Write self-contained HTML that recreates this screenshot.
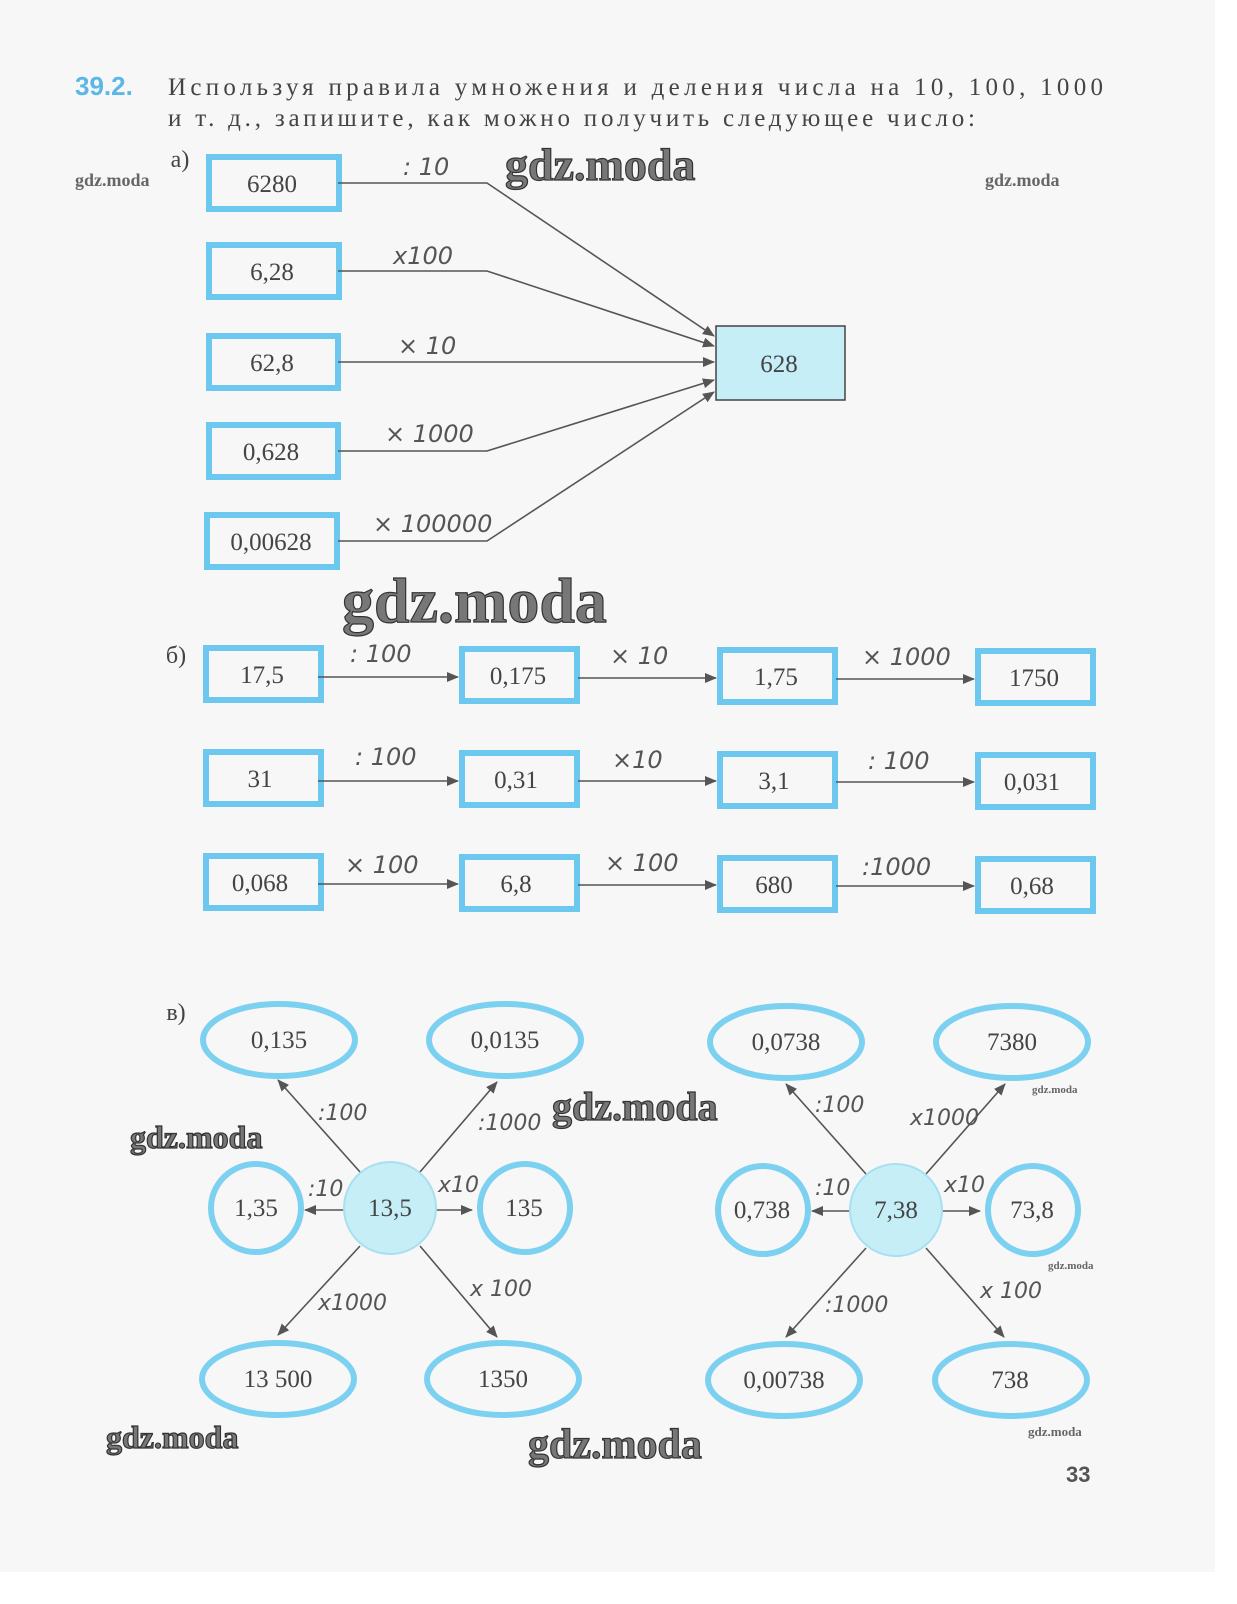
<!DOCTYPE html>
<html><head><meta charset="utf-8"><style>
body{margin:0;width:1237px;height:1604px;background:#fff;overflow:hidden}
svg{display:block}
.t{font-family:"Liberation Serif",serif;fill:#444}
.h{fill:#444;font-size:25px;font-family:"Liberation Serif",serif}
.hw{font-family:"DejaVu Sans",sans-serif;font-style:italic;fill:#555;font-size:24px}
.wm{font-family:"Liberation Serif",serif;font-weight:bold;fill:#777;stroke:#333;stroke-width:1.2}
</style></head><body>
<svg width="1237" height="1604" viewBox="0 0 1237 1604">
<defs><marker id="a" markerWidth="12" markerHeight="10" refX="11" refY="5" orient="auto" markerUnits="userSpaceOnUse"><path d="M0,0 L12,5 L0,10 Z" fill="#555"/></marker></defs>
<rect x="0" y="0" width="1215" height="1572" fill="#f7f7f7"/>
<text x="75" y="95" font-family="Liberation Sans,sans-serif" font-weight="bold" font-size="26" fill="#5bb8e6">39.2.</text>
<text x="168" y="95" class="h" textLength="935" lengthAdjust="spacing">Используя правила умножения и деления числа на 10, 100, 1000</text>
<text x="168" y="126" class="h" textLength="807" lengthAdjust="spacing">и т. д., запишите, как можно получить следующее число:</text>
<g fill="none" stroke="#6cc8ee" stroke-width="6">
<rect x="209" y="157" width="130" height="52"/><rect x="209" y="245" width="130" height="52"/>
<rect x="209" y="336" width="129" height="52"/><rect x="209" y="425" width="129" height="52"/>
<rect x="207" y="515" width="130" height="52"/>
<rect x="206" y="648" width="115" height="52"/><rect x="462" y="649" width="115" height="52"/><rect x="720" y="650" width="115" height="52"/><rect x="978" y="651" width="115" height="52"/>
<rect x="206" y="752" width="115" height="52"/><rect x="462" y="753" width="115" height="52"/><rect x="720" y="754" width="115" height="52"/><rect x="978" y="755" width="115" height="52"/>
<rect x="206" y="856" width="115" height="52"/><rect x="462" y="857" width="115" height="52"/><rect x="720" y="858" width="115" height="52"/><rect x="978" y="859" width="115" height="52"/>
</g>
<rect x="716" y="326" width="129" height="74" fill="#c6eef6" stroke="#444" stroke-width="1.5"/>
<g class="t" font-size="25" text-anchor="middle">
<text x="272" y="192">6280</text><text x="272" y="280">6,28</text><text x="272" y="371">62,8</text><text x="271" y="460">0,628</text><text x="271" y="550">0,00628</text>
<text x="779" y="372">628</text>
<text x="262" y="683">17,5</text><text x="518" y="684">0,175</text><text x="776" y="685">1,75</text><text x="1034" y="686">1750</text>
<text x="260" y="787">31</text><text x="516" y="788">0,31</text><text x="774" y="789">3,1</text><text x="1032" y="790">0,031</text>
<text x="260" y="891">0,068</text><text x="516" y="892">6,8</text><text x="774" y="893">680</text><text x="1032" y="894">0,68</text>
<text x="180" y="167" font-size="24">а)</text><text x="176" y="663" font-size="24">б)</text><text x="176" y="1020" font-size="24">в)</text>
</g>
<g stroke="#555" stroke-width="1.6" fill="none" marker-end="url(#a)">
<path d="M338,183 H487 L714,336"/><path d="M338,271 H487 L714,346"/><path d="M338,362 H714"/><path d="M338,451 H487 L714,380"/><path d="M338,541 H487 L714,392"/>
<path d="M318,677 H458"/><path d="M578,678 H716"/><path d="M836,679 H974"/>
<path d="M318,781 H458"/><path d="M578,781 H716"/><path d="M836,782 H974"/>
<path d="M318,884 H458"/><path d="M578,885 H716"/><path d="M836,886 H974"/>
<path d="M360,1172 L278,1080"/><path d="M420,1172 L497,1082"/><path d="M344,1210 L305,1210"/><path d="M436,1210 L472,1210"/><path d="M360,1246 L278,1335"/><path d="M420,1246 L497,1337"/>
<path d="M866,1174 L786,1084"/><path d="M926,1174 L1005,1084"/><path d="M850,1211 L812,1211"/><path d="M942,1211 L980,1211"/><path d="M866,1248 L786,1337"/><path d="M926,1248 L1004,1337"/>
</g>
<g class="hw">
<text x="403" y="175">: 10</text><text x="393" y="264">x100</text><text x="398" y="354">× 10</text><text x="385" y="442">× 1000</text><text x="373" y="532">× 100000</text>
<text x="350" y="662">: 100</text><text x="610" y="664">× 10</text><text x="862" y="665">× 1000</text>
<text x="355" y="765">: 100</text><text x="612" y="768">×10</text><text x="868" y="769">: 100</text>
<text x="345" y="873">× 100</text><text x="605" y="871">× 100</text><text x="862" y="875">:1000</text>
<text x="318" y="1120" font-size="22">:100</text><text x="478" y="1130" font-size="22">:1000</text><text x="308" y="1196" font-size="22">:10</text><text x="438" y="1192" font-size="22">x10</text><text x="318" y="1310" font-size="22">x1000</text><text x="470" y="1296" font-size="22">x 100</text>
<text x="815" y="1112" font-size="22">:100</text><text x="910" y="1125" font-size="22">x1000</text><text x="815" y="1195" font-size="22">:10</text><text x="944" y="1192" font-size="22">x10</text><text x="825" y="1312" font-size="22">:1000</text><text x="980" y="1298" font-size="22">x 100</text>
</g>
<g fill="none" stroke="#7cd0f0" stroke-width="6">
<ellipse cx="279" cy="1040" rx="76" ry="36"/><ellipse cx="505" cy="1040" rx="76" ry="36"/>
<ellipse cx="256" cy="1208" rx="45" ry="44"/><ellipse cx="525" cy="1208" rx="45" ry="44"/>
<ellipse cx="278" cy="1379" rx="76" ry="36"/><ellipse cx="503" cy="1379" rx="76" ry="36"/>
<ellipse cx="786" cy="1042" rx="76" ry="36"/><ellipse cx="1012" cy="1042" rx="76" ry="36"/>
<ellipse cx="763" cy="1210" rx="45" ry="44"/><ellipse cx="1033" cy="1210" rx="45" ry="44"/>
<ellipse cx="784" cy="1380" rx="76" ry="36"/><ellipse cx="1011" cy="1380" rx="76" ry="36"/>
</g>
<circle cx="390" cy="1208" r="46" fill="#c6eef6" stroke="#a8dff2" stroke-width="2"/>
<circle cx="896" cy="1210" r="46" fill="#c6eef6" stroke="#a8dff2" stroke-width="2"/>
<g class="t" font-size="25" text-anchor="middle">
<text x="279" y="1048">0,135</text><text x="505" y="1048">0,0135</text><text x="256" y="1216">1,35</text><text x="390" y="1216">13,5</text><text x="524" y="1216">135</text><text x="278" y="1387">13 500</text><text x="503" y="1387">1350</text>
<text x="786" y="1050">0,0738</text><text x="1012" y="1050">7380</text><text x="762" y="1218">0,738</text><text x="896" y="1218">7,38</text><text x="1032" y="1218">73,8</text><text x="784" y="1388">0,00738</text><text x="1010" y="1388">738</text>
</g>
<text x="1066" y="1482" font-family="Liberation Sans,sans-serif" font-weight="bold" font-size="22" fill="#555">33</text>
<g class="wm">
<text x="505" y="180" font-size="46">gdz.moda</text>
<text x="342" y="622" font-size="64">gdz.moda</text>
<text x="552" y="1120" font-size="40">gdz.moda</text>
<text x="130" y="1148" font-size="32">gdz.moda</text>
<text x="106" y="1448" font-size="32">gdz.moda</text>
<text x="528" y="1458" font-size="42">gdz.moda</text>
</g>
<g font-family="Liberation Serif,serif" font-weight="bold" fill="#666">
<text x="75" y="186" font-size="18">gdz.moda</text><text x="985" y="186" font-size="18">gdz.moda</text>
<text x="1032" y="1093" font-size="11">gdz.moda</text><text x="1048" y="1269" font-size="11">gdz.moda</text><text x="1028" y="1436" font-size="13">gdz.moda</text>
</g>
</svg>
</body></html>
